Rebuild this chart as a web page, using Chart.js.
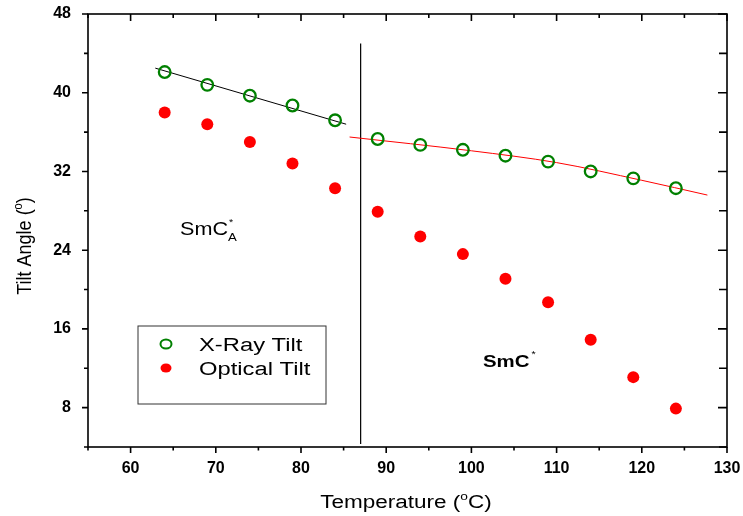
<!DOCTYPE html>
<html>
<head>
<meta charset="utf-8">
<script src="https://cdn.jsdelivr.net/npm/chart.js@4.4.1/dist/chart.umd.min.js"></script>
<style>
  html, body { margin: 0; padding: 0; background: #fff; }
  #wrap { width: 743px; height: 516px; }
</style>
</head>
<body>
<div id="wrap"><canvas id="chart"></canvas></div>
<script>
// data
const temperatures = [64, 69, 74, 79, 84, 89, 94, 99, 104, 109, 114, 119, 124];
const xrayTilt = [42.1, 40.8, 39.7, 38.7, 37.2, 35.3, 34.7, 34.2, 33.6, 33.0, 32.0, 31.3, 30.3];
const opticalTilt = [38.0, 36.8, 35.0, 32.8, 30.3, 27.9, 25.4, 23.6, 21.1, 18.7, 14.9, 11.1, 7.9];

// fitted lines (SmCA* and SmC* ranges)
const fitLowX = [62.9, 85.3];
const fitLowY = [42.5, 36.8];
const fitHighX = [85.7, 100, 110, 120, 127.7];
const fitHighY = [35.5, 34.1, 32.9, 31.1, 29.6];

// phase boundary
const boundaryX = [87, 87];
const boundaryY = [45, 4.3];

const xMin = 55, xMax = 130, xStep = 5, xLabelEvery = 10;
const yMin = 4, yMax = 48, yStep = 4, yLabelEvery = 8;

const FONT = "'Liberation Sans', Arial, sans-serif";

const toPoints = (xs, ys) => xs.map((x, i) => ({ x: x, y: ys[i] }));

// draw text stretched horizontally, like the original figure
function stretchText(ctx, txt, x, y, font, sx, align) {
  ctx.save();
  ctx.font = font;
  ctx.textBaseline = 'alphabetic';
  ctx.textAlign = 'left';
  let w = ctx.measureText(txt).width * sx;
  let x0 = align === 'center' ? x - w / 2 : x;
  ctx.translate(x0, y);
  ctx.scale(sx, 1);
  ctx.fillText(txt, 0, 0);
  ctx.restore();
  return w;
}

const decorPlugin = {
  id: 'decor',
  afterDraw(chart) {
    const ctx = chart.ctx;
    const a = chart.chartArea;
    const xs = chart.scales.x, ys = chart.scales.y;
    ctx.save();
    ctx.strokeStyle = '#000';
    ctx.fillStyle = '#000';

    // frame
    ctx.lineWidth = 1.6;
    ctx.strokeRect(a.left, a.top, a.right - a.left, a.bottom - a.top);

    // tick marks
    ctx.lineWidth = 1.6;
    ctx.beginPath();
    xs.ticks.forEach(t => {
      const px = xs.getPixelForValue(t.value);
      const major = t.value % xLabelEvery === 0;
      ctx.moveTo(px, a.bottom);
      ctx.lineTo(px, a.bottom + (major ? 6 : 3.5));
      ctx.moveTo(px, a.top);
      ctx.lineTo(px, a.top + (major ? 7 : 4));
    });
    ys.ticks.forEach(t => {
      const py = ys.getPixelForValue(t.value);
      const major = t.value % yLabelEvery === 0;
      ctx.moveTo(a.left, py);
      ctx.lineTo(a.left - (major ? 6 : 4), py);
      ctx.moveTo(a.right, py);
      ctx.lineTo(a.right - (major ? 9 : 8), py);
    });
    ctx.stroke();

    // x title
    let sx = 1.25;
    ctx.save();
    ctx.font = '18px ' + FONT;
    let w1 = ctx.measureText('Temperature (').width * sx;
    ctx.font = '11px ' + FONT;
    let w2 = ctx.measureText('o').width * sx;
    ctx.font = '18px ' + FONT;
    let w3 = ctx.measureText('C)').width * sx;
    ctx.restore();
    let start = 406 - (w1 + w2 + w3) / 2;
    stretchText(ctx, 'Temperature (', start, 508, '18px ' + FONT, sx);
    stretchText(ctx, 'o', start + w1, 500, '11px ' + FONT, sx);
    stretchText(ctx, 'C)', start + w1 + w2, 508, '18px ' + FONT, sx);

    // y title
    ctx.save();
    ctx.translate(31, 246);
    ctx.rotate(-Math.PI / 2);
    ctx.font = '18px ' + FONT;
    let t1 = ctx.measureText('Tilt Angle (').width;
    ctx.font = '11px ' + FONT;
    let t2 = ctx.measureText('o').width;
    ctx.font = '18px ' + FONT;
    let t3 = ctx.measureText(')').width;
    let ys0 = -(t1 + t2 + t3) / 2;
    ctx.scale(1, 1.1);
    ctx.textAlign = 'left';
    ctx.font = '18px ' + FONT;
    ctx.fillText('Tilt Angle (', ys0, 0);
    ctx.font = '11px ' + FONT;
    ctx.fillText('o', ys0 + t1, -8);
    ctx.font = '18px ' + FONT;
    ctx.fillText(')', ys0 + t1 + t2, 0);
    ctx.restore();

    // phase labels
    let wa = stretchText(ctx, 'SmC', 180, 235, '18px ' + FONT, 1.2);
    stretchText(ctx, '*', 180 + wa + 1, 225, '9px ' + FONT, 1.2);
    stretchText(ctx, 'A', 180 + wa, 241, '11px ' + FONT, 1.2);

    let wb = stretchText(ctx, 'SmC', 483, 367, 'bold 17px ' + FONT, 1.2);
    stretchText(ctx, '*', 483 + wb + 2, 357, '9px ' + FONT, 1.2);

    // legend box
    ctx.lineWidth = 1;
    ctx.strokeStyle = '#333';
    ctx.strokeRect(138, 326, 188, 78);
    chart.data.datasets.filter(d => d.legend).forEach((d, i) => {
      const cy = 344 + i * 24;
      ctx.beginPath();
      ctx.ellipse(166, cy, 5.5, 4.5, 0, 0, Math.PI * 2);
      if (d.pointBackgroundColor !== 'transparent') {
        ctx.fillStyle = d.pointBackgroundColor;
        ctx.fill();
      } else {
        ctx.strokeStyle = d.pointBorderColor;
        ctx.lineWidth = 2;
        ctx.stroke();
      }
      ctx.fillStyle = '#000';
      stretchText(ctx, d.label, 199, cy + 7, '18px ' + FONT, 1.32);
    });
    ctx.restore();
  }
};

new Chart(document.getElementById('chart'), {
  type: 'scatter',
  data: {
    datasets: [
      {
        label: 'X-Ray Tilt',
        legend: true,
        data: toPoints(temperatures, xrayTilt),
        showLine: false,
        pointRadius: 5.8,
        pointBorderWidth: 2.3,
        pointBorderColor: '#008000',
        pointBackgroundColor: 'transparent',
        order: 1
      },
      {
        label: 'Optical Tilt',
        legend: true,
        data: toPoints(temperatures, opticalTilt),
        showLine: false,
        pointRadius: 6,
        pointBorderWidth: 0,
        pointBorderColor: '#ff0000',
        pointBackgroundColor: '#ff0000',
        order: 2
      },
      {
        label: 'fit low',
        data: toPoints(fitLowX, fitLowY),
        showLine: true,
        borderColor: '#000',
        borderWidth: 1,
        pointRadius: 0,
        order: 3
      },
      {
        label: 'fit high',
        data: toPoints(fitHighX, fitHighY),
        showLine: true,
        borderColor: '#ff0000',
        borderWidth: 1,
        pointRadius: 0,
        cubicInterpolationMode: 'monotone',
        order: 4
      },
      {
        label: 'boundary',
        data: toPoints(boundaryX, boundaryY),
        showLine: true,
        borderColor: '#000',
        borderWidth: 1.2,
        pointRadius: 0,
        order: 5
      }
    ]
  },
  options: {
    responsive: true,
    maintainAspectRatio: false,
    animation: false,
    events: [],
    layout: { padding: { top: 14, right: 16, left: 0, bottom: 0 } },
    plugins: { legend: { display: false }, tooltip: { enabled: false } },
    scales: {
      x: {
        type: 'linear',
        min: xMin, max: xMax,
        grid: { display: false, drawTicks: false },
        border: { display: false },
        ticks: {
          stepSize: xStep,
          padding: 12,
          color: '#000',
          font: { family: FONT, size: 16, weight: 'bold' },
          maxRotation: 0,
          autoSkip: false,
          callback: v => (v % xLabelEvery === 0 ? v : '')
        },
        afterFit: s => {
          s.height = 69;
          s.paddingLeft = 0; s.paddingRight = 0;
        }
      },
      y: {
        type: 'linear',
        min: yMin, max: yMax,
        grid: { display: false, drawTicks: false },
        border: { display: false },
        ticks: {
          stepSize: yStep,
          padding: 17,
          color: '#000',
          font: { family: FONT, size: 16, weight: 'bold' },
          autoSkip: false,
          callback: v => (v % yLabelEvery === 0 ? v : '')
        },
        afterFit: s => {
          s.width = 88;
          s.paddingTop = 0; s.paddingBottom = 0;
        }
      }
    }
  },
  plugins: [decorPlugin]
});
</script>
</body>
</html>
